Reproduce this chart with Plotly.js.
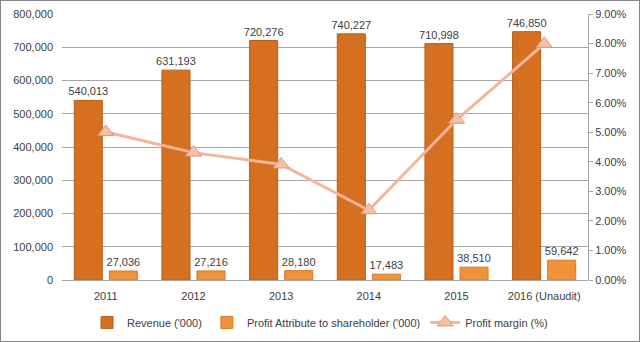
<!DOCTYPE html>
<html><head><meta charset="utf-8">
<script src="https://cdn.plot.ly/plotly-3.0.1.min.js"></script>
<style>
html,body{margin:0;padding:0;background:#fff;}
#chart{width:638px;height:340px;border:1px solid #868686;}
</style></head>
<body><div id="chart"></div>
<script>
const years = ["2011","2012","2013","2014","2015","2016 (Unaudit)"];
const revenue = [540013, 631193, 720276, 740227, 710998, 746850];
const profit = [27036, 27216, 28180, 17483, 38510, 59642];
const margin = [5.01, 4.31, 3.91, 2.36, 5.42, 7.99];
const fmt = v => v.toLocaleString("en-US");
const font = {family:"Liberation Sans, Arial, sans-serif", size:11, color:"#404040"};
const traces = [
  {type:"bar", name:"Revenue ('000)", x:years, y:revenue,
   marker:{color:"#D4701F", line:{color:"#B85E18", width:1}},
   text:revenue.map(fmt), textposition:"outside", cliponaxis:false, constraintext:"none",
   textfont:{family:font.family,size:11,color:"#404040"}},
  {type:"bar", name:"Profit Attribute to shareholder ('000)", x:years, y:profit,
   marker:{color:"#F0923A", line:{color:"#D9782A", width:1}},
   text:profit.map(fmt), textposition:"outside", cliponaxis:false, constraintext:"none",
   textfont:{family:font.family,size:11,color:"#404040"}},
  {type:"scatter", mode:"lines+markers", name:"Profit margin (%)", x:years, y:margin, yaxis:"y2",
   line:{color:"#F5B59C", width:3},
   marker:{symbol:"triangle-up", size:14, color:"#F7C0A6", line:{color:"#D89A7E", width:1}}}
];
const layout = {
  width:638, height:340,
  margin:{l:61, r:51, t:13, b:61, autoexpand:false},
  paper_bgcolor:"#fff", plot_bgcolor:"#fff",
  font:font,
  barmode:"group", bargap:0.2, bargroupgap:0.2,
  showlegend:true,
  legend:{orientation:"h", x:0.5, xanchor:"center", xref:"container", y:-0.105, yanchor:"top", font:font, traceorder:"normal"},
  xaxis:{type:"category", showgrid:false, showline:false, ticks:"", tickfont:font, zeroline:false, ticklabelstandoff:8},
  yaxis:{range:[0,800000], dtick:100000, tickformat:",", showgrid:true, gridcolor:"#A6A6A6", gridwidth:1,
         showline:false, zeroline:true, zerolinecolor:"#A6A6A6", ticks:"", tickfont:font, ticklabelstandoff:8},
  yaxis2:{range:[0,9], dtick:1, overlaying:"y", side:"right", showgrid:false, zeroline:false,
          showline:true, linecolor:"#A6A6A6", ticks:"outside", ticklen:4, tickcolor:"#A6A6A6",
          tickformat:".2f", ticksuffix:"%", tickfont:font}
};
Plotly.newPlot("chart", traces, layout, {displayModeBar:false, staticPlot:true});
</script></body></html>
